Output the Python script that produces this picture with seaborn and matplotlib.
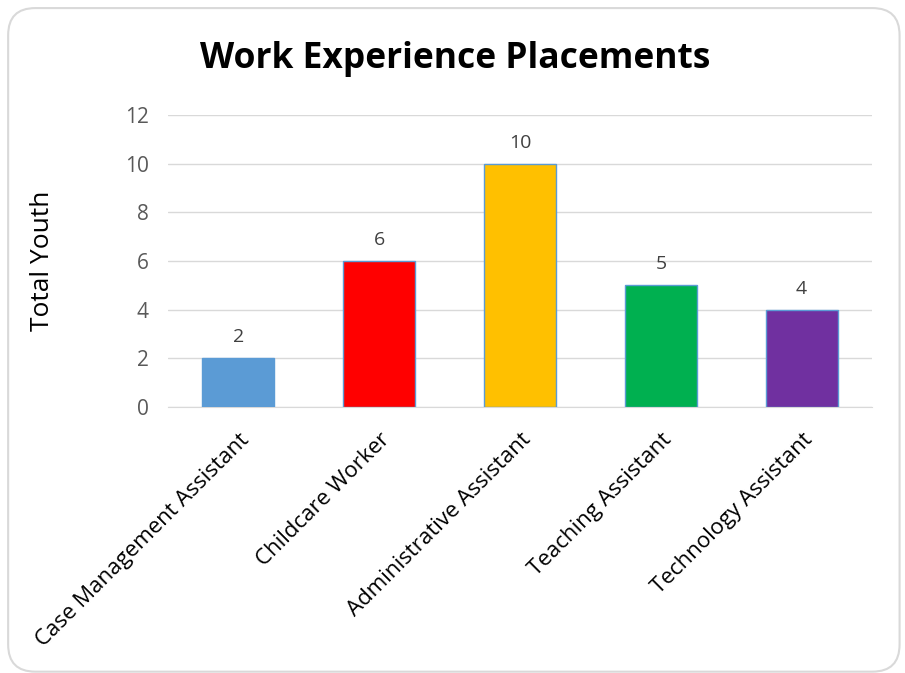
import matplotlib.pyplot as plt
import seaborn as sns
from matplotlib.patches import FancyBboxPatch

roles = ['Case Management Assistant', 'Childcare Worker', 'Administrative Assistant',
         'Teaching Assistant', 'Technology Assistant']
youth = [2, 6, 10, 5, 4]
colors = ['#5B9BD5', '#FF0000', '#FFC000', '#00B050', '#7030A0']

sns.set_style('white')
plt.rcParams['font.family'] = ['Open Sans', 'DejaVu Sans']

fig = plt.figure(figsize=(9.05, 6.73), dpi=100)
ax = fig.add_axes([0.1856, 0.395, 0.778, 0.434])

sns.barplot(x=roles, y=youth, hue=roles, palette=colors, legend=False, saturation=1,
            width=0.51, edgecolor='#5B9BD5', linewidth=1.0, ax=ax, zorder=3)

for i, v in enumerate(youth):
    ax.text(i, v + 0.5, str(v), ha='center', va='bottom', fontsize=14, color='#404040')

ax.set_ylim(0, 12)
ax.set_yticks(range(0, 13, 2))
ax.yaxis.grid(True, color='#D9D9D9', linewidth=1, zorder=0)
ax.set_axisbelow(True)
for s in ['top', 'right', 'left']:
    ax.spines[s].set_visible(False)
ax.spines['bottom'].set_color('#D9D9D9')
ax.tick_params(axis='y', labelsize=15, labelcolor='#595959', length=0, pad=14)
ax.tick_params(axis='x', labelsize=16, labelcolor='black', length=0, pad=16)
plt.setp(ax.get_xticklabels(), rotation=45, ha='right', rotation_mode='anchor')
ax.set_ylabel('Total Youth', fontsize=19, color='black')
ax.yaxis.set_label_coords(-0.16, 0.5)

fig.text(0.503, 0.912, 'Work Experience Placements', ha='center', va='center',
         fontsize=25.5, fontweight='bold', color='black')

border = FancyBboxPatch((0.009, 0.002), 0.985, 0.986,
                        boxstyle='round,pad=0,rounding_size=0.03',
                        transform=fig.transFigure, fill=False,
                        edgecolor='#D9D9D9', linewidth=1.5, mutation_aspect=905 / 673)
fig.patches.append(border)

plt.savefig('out.png', dpi=100)
